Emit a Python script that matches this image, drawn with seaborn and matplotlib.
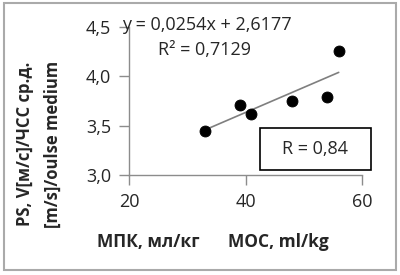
import numpy as np
import pandas as pd
import seaborn as sns
import matplotlib.pyplot as plt
from matplotlib.patches import Rectangle

# data
mpk = [33, 39, 41, 48, 54, 56]
ps = [3.45, 3.71, 3.62, 3.75, 3.79, 4.26]
slope = 0.0254
intercept = 2.6177
r2 = 0.7129
r_value = 0.84
x_ticks = [20, 40, 60]
y_ticks = [3.0, 3.5, 4.0, 4.5]

sns.set_style('white')
plt.rcParams['font.family'] = ['Open Sans', 'DejaVu Sans']

df = pd.DataFrame({'mpk': mpk, 'ps': ps})
trend = pd.DataFrame({'mpk': [min(mpk), max(mpk)]})
trend['ps'] = slope * trend['mpk'] + intercept

fig = plt.figure(figsize=(4, 2.75), dpi=100)
ax = fig.add_axes([0.3225, 0.3636, 0.5825, 0.5382])

sns.lineplot(data=trend, x='mpk', y='ps', ax=ax, color='#7f7f7f', linewidth=1.2)
sns.scatterplot(data=df, x='mpk', y='ps', ax=ax, color='black', s=62,
                edgecolor='black', zorder=3)

ax.set_xlim(20, 60)
ax.set_ylim(3.0, 4.5)
ax.set_xticks(x_ticks)
ax.set_yticks(y_ticks)
ax.set_xticklabels([str(t) for t in x_ticks])
ax.set_yticklabels([f'{t:.1f}'.replace('.', ',') for t in y_ticks])
ax.set_xlabel('')
ax.set_ylabel('')
for side in ['top', 'right']:
    ax.spines[side].set_visible(False)
for side in ['left', 'bottom']:
    ax.spines[side].set_color('#8c8c8c')
    ax.spines[side].set_linewidth(1.0)
ax.tick_params(axis='both', direction='out', length=7, width=1.0,
               color='#8c8c8c', labelsize=13, pad=6, left=True, bottom=True)

# equation and R^2
fig.text(0.305, 0.909, f'y = {slope}x + {intercept}'.replace('.', ','),
         fontsize=13, ha='left', va='center')
fig.text(0.395, 0.818, f'R² = {r2}'.replace('.', ','),
         fontsize=13, ha='left', va='center')

# R box
fig.add_artist(Rectangle((0.65, 0.382), 0.2775, 0.153, transform=fig.transFigure,
                         fill=False, edgecolor='black', linewidth=1.2))
fig.text(0.7875, 0.458, f'R = {r_value}'.replace('.', ','), fontsize=13,
         ha='center', va='center')

# axis titles
fig.text(0.0625, 0.476, 'PS, V[м/с]/ЧСС ср.д.', rotation=90, fontsize=12,
         fontweight='bold', ha='center', va='center')
fig.text(0.1325, 0.476, '[m/s]/oulse medium', rotation=90, fontsize=12,
         fontweight='bold', ha='center', va='center')
fig.text(0.37, 0.12, 'МПК, мл/кг', fontsize=12.5, fontweight='bold',
         ha='center', va='center')
fig.text(0.695, 0.12, 'MOC, ml/kg', fontsize=12.5, fontweight='bold',
         ha='center', va='center')

# grey frame around the picture
fig.add_artist(Rectangle((0.009, 0.018), 0.98, 0.97, transform=fig.transFigure,
                         fill=False, edgecolor='#aaaaaa', linewidth=1.5))

fig.savefig('out.png', dpi=100)
